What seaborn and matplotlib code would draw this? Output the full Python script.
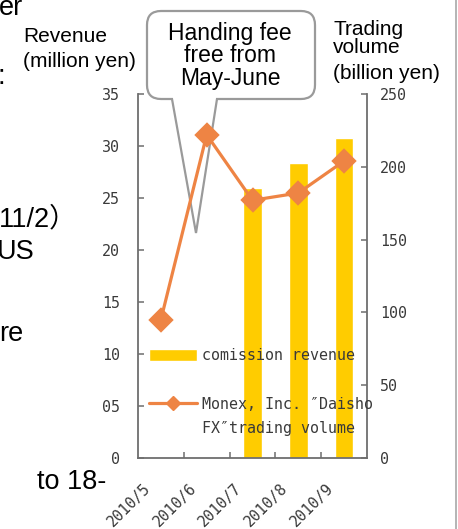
import numpy as np
import pandas as pd
import matplotlib
matplotlib.use("Agg")
import matplotlib.pyplot as plt
from matplotlib.path import Path
from matplotlib.patches import PathPatch, Rectangle
from matplotlib.lines import Line2D
from matplotlib.transforms import Affine2D, ScaledTranslation
import seaborn as sns

# ---- data -------------------------------------------------------------
months = ["2010/5", "2010/6", "2010/7", "2010/8", "2010/9"]
commission_revenue = [np.nan, np.nan, 26.0, 28.4, 30.8]      # million yen
trading_volume = [95, 222, 177, 182, 204]                     # billion yen
revenue_ticks = [0, 5, 10, 15, 20, 25, 30, 35]
revenue_tick_labels = ["0", "05", "10", "15", "20", "25", "30", "35"]
volume_ticks = [0, 50, 100, 150, 200, 250]
bar_label = "comission revenue"
line_label_1 = "Monex, Inc. \u2033Daisho"
line_label_2 = "FX\u2033trading volume"

# ---- style ------------------------------------------------------------
BAR_COLOR = "#FFCC00"
LINE_COLOR = "#EE8444"
SPINE_COLOR = "#6E6E6E"
TEXT_COLOR = "#3A3A3A"
SANS = ["Liberation Sans", "Noto Sans CJK JP", "DejaVu Sans"]
MONO_SIZE = 10.8

sns.set_style("white")
plt.rcParams["font.family"] = ["DejaVu Sans Mono", "DejaVu Sans"]

W, H = 458, 529
fig = plt.figure(figsize=(W / 100, H / 100), dpi=100)
# pixel coordinates measured from the top-left corner of the figure
PX = Affine2D().scale(1 / W, -1 / H).translate(0, 1) + fig.transFigure

left, right, top, bottom = 138, 367, 94, 458
ax = fig.add_axes([left / W, 1 - bottom / H, (right - left) / W, (bottom - top) / H])
ax.patch.set_visible(False)

df = pd.DataFrame({"month": months, "revenue": commission_revenue, "volume": trading_volume})

sns.barplot(data=df, x="month", y="revenue", order=months, color=BAR_COLOR,
            saturation=1, width=0.41, errorbar=None, ax=ax)

ax2 = ax.twinx()
sns.pointplot(data=df, x="month", y="volume", order=months, color=LINE_COLOR,
              markers="D", errorbar=None, ax=ax2, linewidth=2.3, markersize=11)

ax.set_xlim(-0.5, len(months) - 0.5)
ax.set_ylim(0, 35)
ax2.set_ylim(0, 250)
ax.set_yticks(revenue_ticks, revenue_tick_labels)
ax2.set_yticks(volume_ticks, [str(v) for v in volume_ticks])
ax.set_xlabel("")
ax.set_ylabel("")
ax2.set_ylabel("")
ax2.set_xlabel("")

for name, sp in ax.spines.items():
    sp.set_visible(name in ("left", "bottom"))
    sp.set_color(SPINE_COLOR)
    sp.set_linewidth(1.3)
for name, sp in ax2.spines.items():
    sp.set_visible(name == "right")
    sp.set_color(SPINE_COLOR)
    sp.set_linewidth(1.3)

ax.tick_params(axis="y", direction="in", length=4, width=1.1, color=SPINE_COLOR,
               pad=13, labelsize=MONO_SIZE, labelcolor=TEXT_COLOR, left=True)
ax2.tick_params(axis="y", direction="in", length=4, width=1.1, color=SPINE_COLOR,
                pad=9.5, labelsize=MONO_SIZE, labelcolor=TEXT_COLOR, right=True)

# category labels on the x axis, boundary tick marks between months
ax.set_xticks(range(len(months)), months)
ax.set_xticks(np.arange(0.5, len(months) - 1, 1.0), minor=True)
ax.tick_params(axis="x", which="major", length=0, pad=20, labelsize=MONO_SIZE,
               labelcolor=TEXT_COLOR)
ax.tick_params(axis="x", which="minor", direction="in", length=4, width=1.1,
               color=SPINE_COLOR, bottom=True)
shift = ScaledTranslation(-13 / 100, 0, fig.dpi_scale_trans)
for lbl in ax.get_xticklabels():
    lbl.set_rotation(45)
    lbl.set_ha("right")
    lbl.set_va("center")
    lbl.set_rotation_mode("anchor")
    lbl.set_transform(lbl.get_transform() + shift)

# legend: bar entry, a spacer row, then the two-line series name
blank = Rectangle((0, 0), 1, 1, facecolor="none", edgecolor="none")
bar_handle = ax.patches[0]
line_handle = Line2D([], [], color=LINE_COLOR, lw=2.3, marker="D", markersize=7.5)
ax2.legend([bar_handle, blank, line_handle, blank],
           [bar_label, "", line_label_1, line_label_2],
           loc="upper left", bbox_to_anchor=(149 / W, 1 - 348 / H),
           bbox_transform=fig.transFigure, frameon=False, borderpad=0,
           borderaxespad=0, handlelength=3.2, handleheight=0.8,
           handletextpad=0.3, labelspacing=0.62, fontsize=MONO_SIZE,
           labelcolor=TEXT_COLOR)

# axis titles
fig.text(23, 67, "Revenue\n(million yen)", ha="left", va="baseline",
         fontsize=15, family=SANS, color="black", linespacing=1.4, transform=PX)
fig.text(333, 53, "Trading\nvolume", ha="left", va="baseline", fontsize=15,
         family=SANS, color="black", linespacing=0.95, transform=PX)
fig.text(333, 79, "(billion yen)", ha="left", va="baseline", fontsize=15,
         family=SANS, color="black", transform=PX)

# callout bubble with a pointer towards June
L, R, T, B, r = 147, 315, 11, 99, 14
x1, x2, tip = 172, 217, (196, 233)
verts = [(L + r, T), (R - r, T), (R, T), (R, T + r), (R, B - r), (R, B), (R - r, B),
         (x2, B), tip, (x1, B), (L + r, B), (L, B), (L, B - r), (L, T + r), (L, T),
         (L + r, T), (L + r, T)]
codes = [Path.MOVETO, Path.LINETO, Path.CURVE3, Path.CURVE3, Path.LINETO, Path.CURVE3,
         Path.CURVE3, Path.LINETO, Path.LINETO, Path.LINETO, Path.LINETO, Path.CURVE3,
         Path.CURVE3, Path.LINETO, Path.CURVE3, Path.CURVE3, Path.CLOSEPOLY]
bubble = PathPatch(Path(verts, codes), transform=PX, facecolor="white",
                   edgecolor="#9A9A9A", lw=1.6, zorder=-1)
fig.add_artist(bubble)
fig.text(230, 56, "Handing fee\nfree from\nMay-June", ha="center", va="center",
         fontsize=16.5, family=SANS, color="black", linespacing=0.98, transform=PX)

# text running in from the neighbouring column of the page
for x, y, s in [(-1, 15, "er"), (-3, 84, ":"), (-1, 226, "11/2\uff09"),
                (-3, 259, "US"), (-1, 341, "re"), (37, 489, "to 18-")]:
    fig.text(x, y, s, ha="left", va="baseline", fontsize=19.5, family=SANS,
             color="black", transform=PX)

# page divider on the right
fig.add_artist(Line2D([456, 456], [0, H], transform=PX, color="#A8A8A8", lw=1.2))

fig.savefig("out.png", dpi=100)
